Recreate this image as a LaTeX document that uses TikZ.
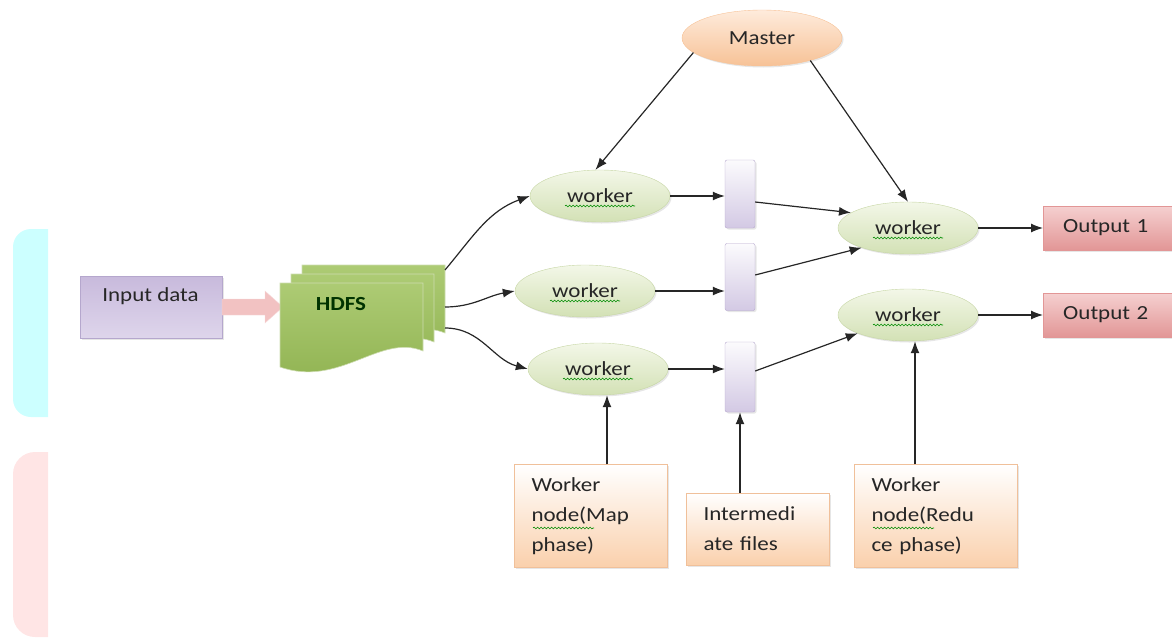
\documentclass[tikz,border=0pt]{standalone}
\usepackage{fontspec}
\setmainfont[FakeStretch=1.15]{Carlito}
\usetikzlibrary{shapes.geometric,arrows.meta,shadows,decorations.pathmorphing,calc}

\definecolor{wktop}{HTML}{F3F7E8}
\definecolor{wkbot}{HTML}{D3E1B5}
\definecolor{wkline}{HTML}{C6D6A4}
\definecolor{mstop}{HTML}{FEEBDC}
\definecolor{msbot}{HTML}{F7C296}
\definecolor{barc}{HTML}{D3C9E4}
\definecolor{barline}{HTML}{B5A7CD}
\definecolor{intop}{HTML}{C8BADC}
\definecolor{inbot}{HTML}{DED5EB}
\definecolor{outtop}{HTML}{F5D0D0}
\definecolor{outbot}{HTML}{E29696}
\definecolor{peach}{HTML}{FAD0AC}
\definecolor{peachline}{HTML}{F0C09A}
\definecolor{hdtop}{HTML}{ADCB74}
\definecolor{hdbot}{HTML}{8FB250}
\definecolor{fatc}{HTML}{F2C2C2}
\definecolor{cyanbg}{HTML}{CCFFFF}
\definecolor{pinkbg}{HTML}{FFE5E5}

\tikzset{
  docpage/.pic={
    \path[top color=hdtop, bottom color=hdbot, draw=white!55!hdbot, line width=0.6pt]
      (0,0) -- (143,0) -- (143,68) .. controls (100,50) and (60,105) .. (0,84) -- cycle;
  }
}

\begin{document}
\begin{tikzpicture}[x=1pt,y=-1pt,
  txt/.style={font=\fontsize{20}{30}\selectfont, text=black!85},
  soft/.style={drop shadow={opacity=0.2, shadow xshift=1.5pt, shadow yshift=-1.5pt}},
  arr/.style={-{Latex[length=12pt,width=9pt]}, line width=1.2pt, black!85},
  worker/.style={ellipse, draw=wkline, top color=wktop, bottom color=wkbot,
    minimum width=140pt, minimum height=52pt, inner sep=0pt, txt, soft},
  master/.style={ellipse, draw=msbot, top color=mstop, bottom color=msbot,
    minimum width=160pt, minimum height=56pt, inner sep=0pt, txt, soft},
  interbar/.style={rectangle, rounded corners=2pt, draw=barline, top color=white!92!barc,
    bottom color=barc, minimum width=30pt, inner sep=0pt, soft},
  outbox/.style={rectangle, draw=outbot, top color=outtop, bottom color=outbot,
    minimum width=150pt, minimum height=44pt, text width=110pt, inner xsep=20pt,
    align=left, txt, soft},
  notebox/.style={rectangle, draw=peachline, top color=white, bottom color=peach,
    inner xsep=17pt, inner ysep=0pt, align=left, txt, soft},
  spell/.style={draw=green!55!black, line width=0.6pt, decorate,
    decoration={snake, amplitude=0.9pt, segment length=3.5pt}}]

\useasboundingbox (0,0) rectangle (1172,637);

% faded shapes at the left edge
\begin{scope}
  \clip (0,0) rectangle (48,637);
  \fill[cyanbg, rounded corners=18pt] (13,229) rectangle (90,417);
  \fill[pinkbg, rounded corners=22pt] (13,452) rectangle (90,637);
\end{scope}

% input and HDFS
\node[rectangle, draw=barline, top color=intop, bottom color=inbot, minimum width=142pt,
  minimum height=62pt, soft, label={[txt, anchor=north west, xshift=19pt, yshift=-8pt]north west:Input data}]
  (in) at (151,307) {};
\fill[fatc, draw=white!40!fatc] (222,299) -- (265,299) -- (265,291) -- (283,307)
  -- (265,323) -- (265,315) -- (222,315) -- cycle;
\pic at (302,265) {docpage};
\pic at (291,274) {docpage};
\pic at (280,283) {docpage};
\node[font=\fontsize{20}{24}\selectfont\bfseries, text=black!80!green] (hdfs) at (341,304) {HDFS};
\coordinate (h1) at (445,270);
\coordinate (h2) at (445,307);
\coordinate (h3) at (445,328);

% map workers and intermediate files
\node[worker] (w1) at (600,196) {worker};
\node[worker] (w2) at (585,291) {worker};
\node[worker] (w3) at (598,369) {worker};
\node[interbar, minimum height=68pt] (b1) at (740,194) {};
\node[interbar, minimum height=67pt] (b2) at (740,277) {};
\node[interbar, minimum height=70pt] (b3) at (740,377) {};

% master, reduce workers, outputs
\node[master] (m) at (762,38) {Master};
\node[worker] (r1) at (908,228) {worker};
\node[worker] (r2) at (908,315) {worker};
\node[outbox, anchor=west] (o1) at (1043,228) {Output 1};
\node[outbox, anchor=west] (o2) at (1043,315) {Output 2};

% notes at the bottom
\node[notebox, minimum width=153pt, minimum height=103pt, text width=119pt] (mb) at (591,516) {Worker\\node(Map\\phase)};
\node[notebox, minimum width=143pt, minimum height=72pt, text width=109pt, inner xsep=15pt] (ib) at (758,529) {Intermedi\\ate files};
\node[notebox, minimum width=163pt, minimum height=103pt, text width=129pt] (rb) at (936,516) {Worker\\node(Redu\\ce phase)};

% wavy marks under some words
\foreach \w in {w1,w2,w3,r1,r2}
  \draw[spell] ([shift={(-35,10)}]\w.center) -- ++(70,0);
\draw[spell] (533,528) -- (594,528);
\draw[spell] (873,528) -- (934,528);

% connectors
\draw[arr] (h1) to[out=50, in=200] (w1.west);
\draw[arr] (h2) to[out=0, in=190] (w2.west);
\draw[arr] (h3) to[out=0, in=165] (w3.west);
\draw[arr] (w1.east) -- (w1.east -| b1.west);
\draw[arr] (w2.east) -- (w2.east -| b2.west);
\draw[arr] (w3.east) -- (w3.east -| b3.west);
\draw[arr] ([yshift=-8pt]b1.east) -- (r1.165);
\draw[arr] ([yshift=2pt]b2.east) -- (r1.203);
\draw[arr] ([yshift=6pt]b3.east) -- (r2.200);
\draw[arr] (r1) -- (o1);
\draw[arr] (r2) -- (o2);
\draw[arr] (m.192) -- (w1.100);
\draw[arr] (m.-25) -- (r1.north);
\draw[arr] ([xshift=16pt]mb.north) -- ([xshift=16pt]mb.north |- w3.south);
\draw[arr] (b3.south |- ib.north) -- (b3.south);
\draw[arr] ([xshift=-21pt]rb.north) -- ([xshift=-21pt]rb.north |- r2.south);
\end{tikzpicture}
\end{document}
